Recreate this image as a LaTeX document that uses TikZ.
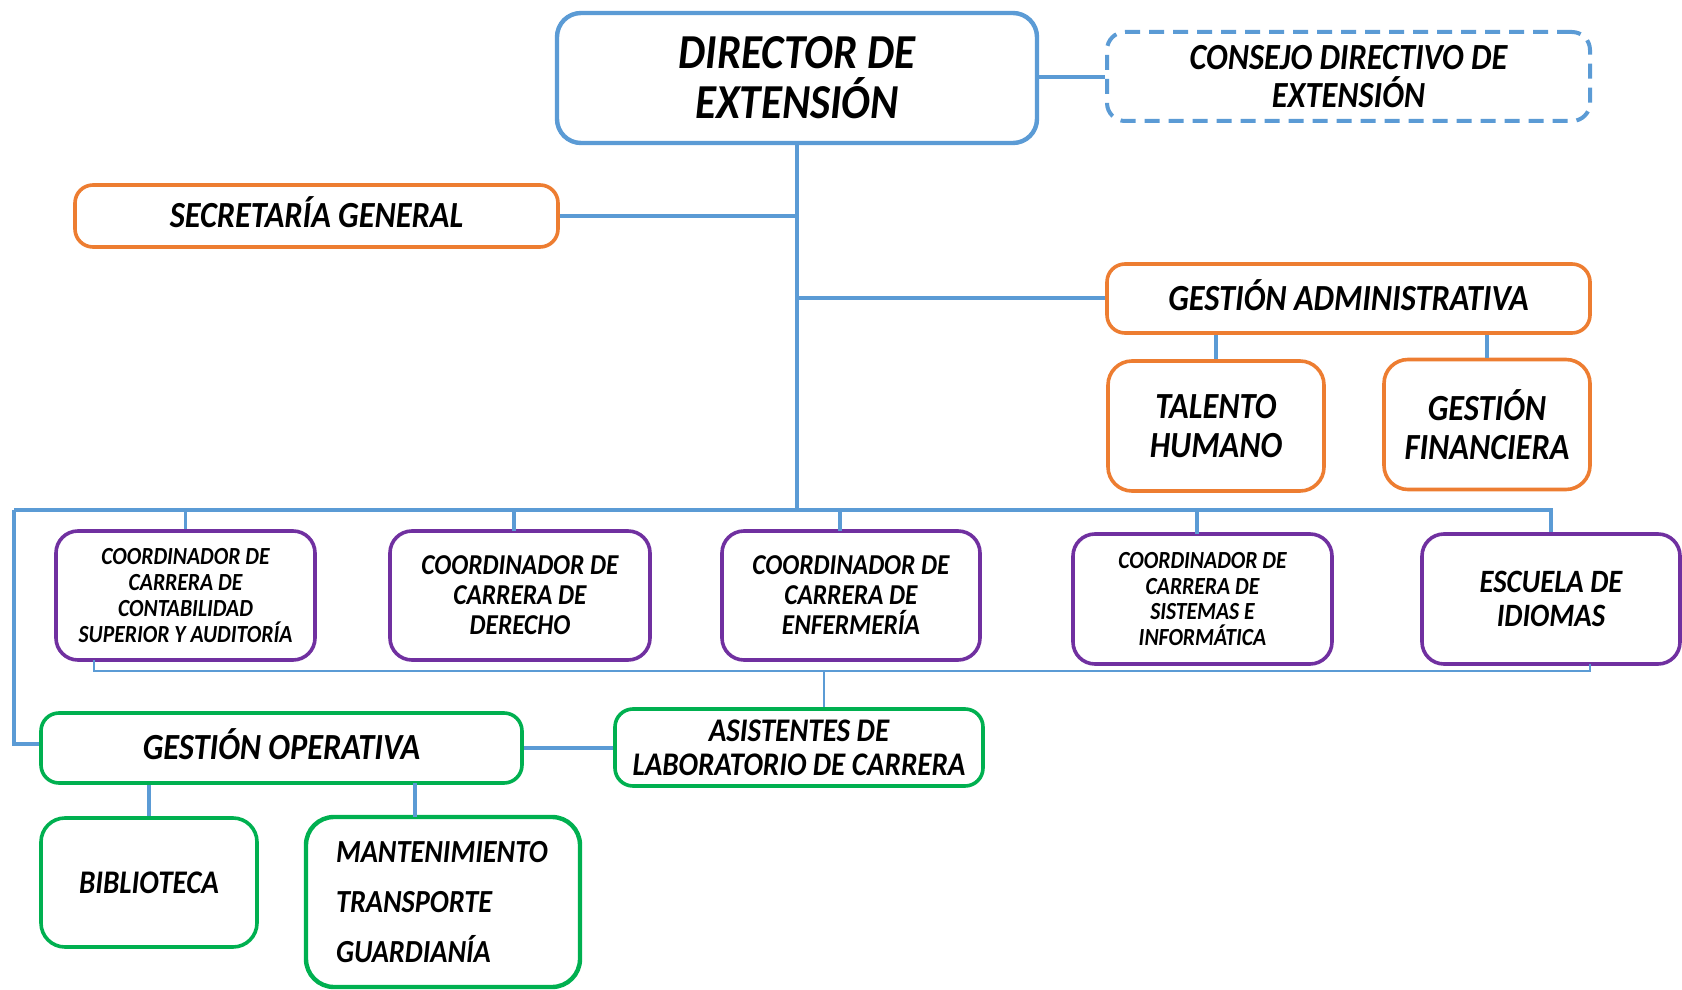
\documentclass[tikz,border=0pt]{standalone}
\usepackage{fontspec}
\setmainfont{Carlito}[FakeStretch=0.88]
\definecolor{cblue}{HTML}{5B9BD5}
\definecolor{corange}{HTML}{ED7D31}
\definecolor{cpurple}{HTML}{7030A0}
\definecolor{cgreen}{HTML}{00B050}
\tikzset{
  box/.style={draw, line width=1.8pt, rounded corners=9pt, fill=white, align=center, inner sep=2pt, font=\bfseries\itshape},
  bluebox/.style={box, draw=cblue},
  orangebox/.style={box, draw=corange},
  purplebox/.style={box, draw=cpurple, rounded corners=11pt},
  greenbox/.style={box, draw=cgreen},
  oneline/.style={text height=#1, text depth=0pt},
  conn/.style={draw=cblue, line width=1.7pt},
  thinconn/.style={draw=cblue, line width=1pt},
}
\newcommand{\fs}[2]{\fontsize{#1}{#2}\selectfont}
\begin{document}
\begin{tikzpicture}[x=0.5pt,y=-0.5pt]
\useasboundingbox (0,0) rectangle (1682,990);
% nodes
\node[bluebox, line width=2.2pt, rounded corners=12pt, minimum width=240pt, minimum height=65pt, font=\bfseries\itshape\fs{24.4}{25}] (dir) at (797,78) {DIRECTOR DE\\EXTENSIÓN};
\node[bluebox, line width=2pt, dash pattern=on 7.5pt off 4.5pt, minimum width=241.5pt, minimum height=44.5pt, font=\bfseries\itshape\fs{18.4}{19.3}] (cons) at (1348.5,76.5) {CONSEJO DIRECTIVO DE\\EXTENSIÓN};
\node[orangebox, oneline=11.9pt, minimum width=241.5pt, minimum height=31pt, font=\bfseries\itshape\fs{18.4}{20}] (sec) at (316.5,216) {SECRETARÍA GENERAL};
\node[orangebox, oneline=11.9pt, minimum width=241.5pt, minimum height=34.5pt, font=\bfseries\itshape\fs{18.4}{20}] (ga) at (1348.5,298.5) {GESTIÓN ADMINISTRATIVA};
\node[orangebox, rounded corners=12pt, minimum width=108pt, minimum height=65pt, font=\bfseries\itshape\fs{18.4}{19.3}] (th) at (1216,426) {TALENTO\\HUMANO};
\node[orangebox, rounded corners=12pt, minimum width=103pt, minimum height=65pt, font=\bfseries\itshape\fs{18.4}{19.3}] (gf) at (1487,424.5) {GESTIÓN\\FINANCIERA};
\node[purplebox, minimum width=129.5pt, minimum height=64.5pt, font=\bfseries\itshape\fs{12.3}{12.9}] (c1) at (185.5,595.5) {COORDINADOR DE\\CARRERA DE\\CONTABILIDAD\\SUPERIOR Y AUDITORÍA};
\node[purplebox, minimum width=130pt, minimum height=64.5pt, font=\bfseries\itshape\fs{14.4}{15}] (c2) at (520,595.5) {COORDINADOR DE\\CARRERA DE\\DERECHO};
\node[purplebox, minimum width=129pt, minimum height=64.5pt, font=\bfseries\itshape\fs{14.4}{15}] (c3) at (851,595.5) {COORDINADOR DE\\CARRERA DE\\ENFERMERÍA};
\node[purplebox, minimum width=129.5pt, minimum height=65pt, font=\bfseries\itshape\fs{12.3}{12.9}] (c4) at (1202.5,599) {COORDINADOR DE\\CARRERA DE\\SISTEMAS E\\INFORMÁTICA};
\node[purplebox, minimum width=129pt, minimum height=65pt, font=\bfseries\itshape\fs{16.3}{17}] (esc) at (1551,599) {ESCUELA DE\\IDIOMAS};
\node[greenbox, minimum width=184pt, minimum height=38.5pt, font=\bfseries\itshape\fs{16.5}{17}] (asi) at (799,747.5) {ASISTENTES DE\\LABORATORIO DE CARRERA};
\node[greenbox, oneline=11.9pt, minimum width=240.5pt, minimum height=35pt, font=\bfseries\itshape\fs{18.4}{20}] (go) at (281.5,748) {GESTIÓN OPERATIVA};
\node[greenbox, oneline=10.6pt, rounded corners=12pt, minimum width=108pt, minimum height=64.5pt, font=\bfseries\itshape\fs{16.5}{17}] (bib) at (149,882.5) {BIBLIOTECA};
\node[greenbox, line width=2.2pt, rounded corners=14pt, minimum width=137pt, minimum height=85pt, text width=107pt, inner xsep=15pt, align=left, font=\bfseries\itshape\fs{16.1}{25}] (man) at (443,902) {MANTENIMIENTO\\TRANSPORTE\\GUARDIANÍA};
% coordinates
\coordinate (bus) at (797,510);
\coordinate (busL) at (14,510);
\coordinate (busR) at (1551,510);
% connectors
\draw[conn] (dir.east |- 0,77) -- (cons.west |- 0,77);
\draw[conn] (dir.south) -- (bus);
\draw[conn] (sec.east) -- (sec.east -| bus);
\draw[conn] (ga.west |- 0,298) -- (bus |- 0,298);
\draw[conn] (th.north) -- (th.north |- ga.south);
\draw[conn] (gf.north) -- (gf.north |- ga.south);
\draw[conn] (busL) -- (busR) -- (esc.north);
\draw[conn] (c1.north) -- (c1.north |- bus);
\draw[conn] (514,510) -- (514,531);
\draw[conn] (840,510) -- (840,531);
\draw[conn] (1197,510) -- (1197,534);
\draw[conn] (busL) -- (14,744) -- (go.west |- 0,744);
\coordinate (tb1) at (94,671);
\coordinate (tb2) at (1590,671);
\draw[thinconn] (94,660) -- (tb1) -- (tb2) -- (1590,664);
\draw[thinconn] (asi.north -| 824,0) -- (824,671);
\draw[conn] (go.east) -- (asi.west |- go.east);
\draw[conn] (bib.north) -- (bib.north |- go.south);
\draw[conn] (415,783) -- (415,817);
\end{tikzpicture}
\end{document}
